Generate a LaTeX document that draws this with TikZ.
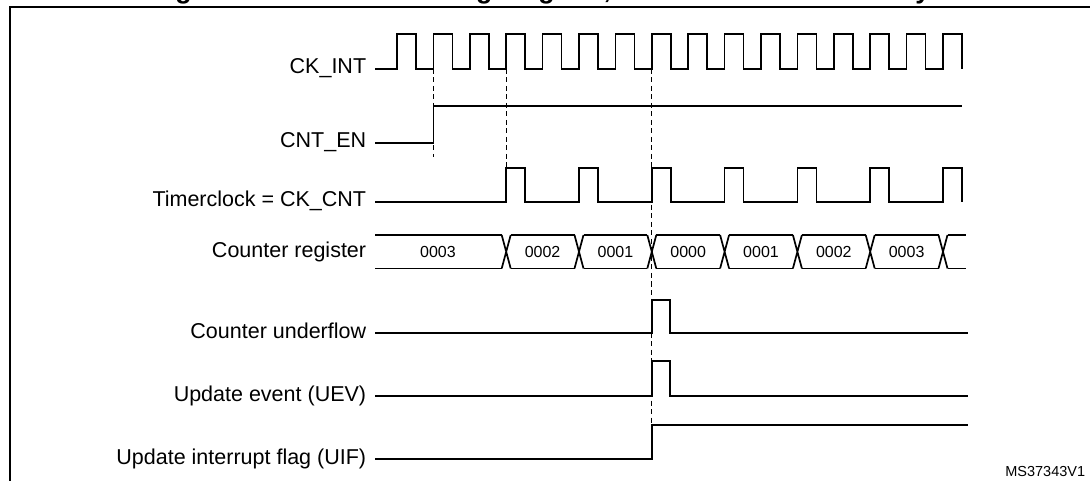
\documentclass[tikz,border=0pt]{standalone}
\usepackage{fontspec}
\setmainfont{Liberation Sans}
\begin{document}
\begin{tikzpicture}[x=1pt, y=-1pt, line width=1.7pt,
        sig label/.style={anchor=base east, inner sep=0pt, font=\fontsize{21.5}{24}\selectfont},
        reg value/.style={inner sep=0pt, font=\fontsize{16}{18}\selectfont},
        guide/.style={line width=1.1pt, dash pattern=on 5pt off 3.5pt}]
    \useasboundingbox (0,0) rectangle (1090,481);
    % frame and the cut-off caption
    \draw[line width=2pt] (10,482) -- (10,7) -- (1092,7);
    \node[anchor=base, inner sep=0pt, font=\bfseries\fontsize{26.7}{30}\selectfont] (title) at (552,-1.5)
        {Figure 130. Counter timing diagram, internal clock divided by 2};
    % signal names
    \node[sig label] (ckint) at (367,74) {CK\_INT};
    \node[sig label] (cnten) at (367,148) {CNT\_EN};
    \node[sig label] (ckcnt) at (367,207) {Timerclock = CK\_CNT};
    \node[sig label] (cntreg) at (367,258) {Counter register};
    \node[sig label] (uflow) at (367,338) {Counter underflow};
    \node[sig label] (uev) at (367,401) {Update event (UEV)};
    \node[sig label] (uif) at (367,464) {Update interrupt flag (UIF)};
    % CK_INT
    \draw (375,69) \foreach \k in {0,...,15} {
        -- ({397+36.4*\k},69) -- ({397+36.4*\k},34) -- ({416+36.4*\k},34) -- ({416+36.4*\k},69)};
    % CNT_EN
    \draw (375,143) -- (433.4,143) -- (433.4,106) -- (962,106);
    % CK_CNT
    \draw (375,202) \foreach \k in {0,...,6} {
        -- ({506.2+72.8*\k},202) -- ({506.2+72.8*\k},168) -- ({525.2+72.8*\k},168) -- ({525.2+72.8*\k},202)};
    % counter register
    \draw (375,235) -- (501.7,235) (375,268.5) -- (501.7,268.5);
    \foreach \j in {0,...,6}
        \draw ({501.7+72.8*\j},235) -- ({510.7+72.8*\j},268.5) ({501.7+72.8*\j},268.5) -- ({510.7+72.8*\j},235);
    \foreach \j in {0,...,5}
        \draw ({510.7+72.8*\j},235) -- ({574.5+72.8*\j},235) ({510.7+72.8*\j},268.5) -- ({574.5+72.8*\j},268.5);
    \draw (947.5,235) -- (966,235) (947.5,268.5) -- (966,268.5);
    \node[reg value] (v0) at (438,251.7) {0003};
    \foreach \v [count=\j from 0] in {0002,0001,0000,0001,0002,0003}
        \node[reg value] (v\v\j) at ({542.6+72.8*\j},251.7) {\v};
    % underflow, UEV, UIF
    \draw (375,332.7) -- (651.8,332.7) -- (651.8,300) -- (670,300) -- (670,332.7) -- (968,332.7);
    \draw (375,395.7) -- (651.8,395.7) -- (651.8,361) -- (670,361) -- (670,395.7) -- (968,395.7);
    \draw (375,459) -- (651.8,459) -- (651.8,425) -- (968,425);
    % dashed guides
    \draw[guide] (433.4,69) -- (433.4,157);
    \draw[guide] (506.2,69) -- (506.2,168);
    \draw[guide] (651.8,69) -- (651.8,425);
    \node[anchor=base east, inner sep=0pt, font=\fontsize{14.5}{16}\selectfont] (docid) at (1086,476) {MS37343V1};
\end{tikzpicture}
\end{document}
